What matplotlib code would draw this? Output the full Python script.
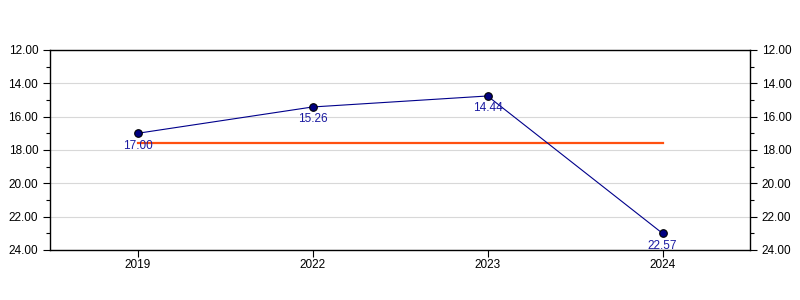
import matplotlib
matplotlib.use("Agg")
import matplotlib.pyplot as plt
from matplotlib.ticker import MultipleLocator, FormatStrFormatter

plt.rcParams['font.family'] = ['Liberation Sans', 'DejaVu Sans']

categories = ["2019", "2022", "2023", "2024"]
values = [17.0, 15.42, 14.76, 23.0]
value_labels = ["17.00", "15.26", "14.44", "22.57"]
average = 17.56

fig = plt.figure(figsize=(8, 3), dpi=100)
ax = fig.add_axes([0.0625, 0.1667, 0.875, 0.6667])

x = list(range(len(categories)))
ax.plot(x, values, color="#00008b", lw=0.8, zorder=3)
ax.scatter(x, values, s=30, color="#000080", edgecolors="black", linewidths=0.8, zorder=4)
ax.plot([x[0], x[-1]], [average, average], color="#ff5010", lw=1.6, zorder=2)

for xi, v, lab in zip(x, values, value_labels):
    ax.annotate(lab, (xi, v), xytext=(0, -4.5), textcoords="offset points",
                ha="center", va="top", fontsize=8.5, color="#1a1aa0", zorder=5)

ax.set_xlim(-0.5, len(categories) - 0.5)
ax.set_ylim(24, 12)
ax.set_xticks(x)
ax.set_xticklabels(categories)
ax.yaxis.set_major_locator(MultipleLocator(2))
ax.yaxis.set_minor_locator(MultipleLocator(1))
ax.yaxis.set_major_formatter(FormatStrFormatter("%.2f"))
ax.grid(axis="y", which="major", color="#d8d8d8", lw=0.8)
ax.set_axisbelow(True)
ax.tick_params(axis="y", which="both", left=True, right=True, labelleft=True, labelright=True,
               direction="out", labelsize=8.5, colors="black")
ax.tick_params(axis="y", which="major", length=5, width=0.8)
ax.tick_params(axis="y", which="minor", length=3, width=0.8)
ax.tick_params(axis="x", length=5, width=0.8, labelsize=8.5, pad=1.5)
for s in ax.spines.values():
    s.set_linewidth(1.0)
    s.set_color("black")

fig.savefig("out.png", dpi=100)
